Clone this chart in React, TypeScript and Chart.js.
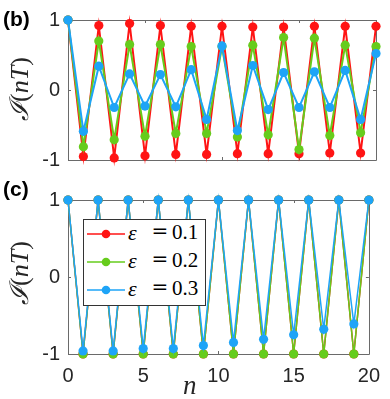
import React, { useEffect, useRef } from "react";
import { Chart, registerables } from "chart.js";

Chart.register(...registerables);

// ---------- data ----------
const nValues = [0, 1, 2, 3, 4, 5, 6, 7, 8, 9, 10, 11, 12, 13, 14, 15, 16, 17, 18, 19, 20];

const seriesLabels = ["ε = 0.1", "ε = 0.2", "ε = 0.3"];
const epsValues = ["0.1", "0.2", "0.3"];
const seriesColors = ["#ff1414", "#66cc1c", "#1ea4f7"];

// panel (b)
const topEps01 = [1, -0.95, 0.92, -0.97, 0.95, -0.94, 0.92, -0.92, 0.91, -0.92, 0.91, -0.91, 0.9, -0.91, 0.9, -0.91, 0.91, -0.9, 0.91, -0.9, 0.91];
const topEps02 = [1, -0.81, 0.7, -0.71, 0.65, -0.66, 0.65, -0.62, 0.62, -0.62, 0.62, -0.67, 0.64, -0.64, 0.75, -0.85, 0.74, -0.65, 0.64, -0.61, 0.62];
const topEps03 = [1, -0.59, 0.34, -0.25, 0.23, -0.23, 0.22, -0.24, 0.29, -0.42, 0.63, -0.58, 0.35, -0.28, 0.25, -0.25, 0.26, -0.25, 0.28, -0.42, 0.52];

// panel (c)
const botEps01 = [1, -1, 1, -1, 1, -1, 1, -1, 1, -1, 1, -1, 1, -1, 1, -1, 1, -1, 1, -1, 1];
const botEps02 = [1, -1, 1, -1, 1, -1, 1, -1, 1, -1, 1, -1, 1, -1, 1, -1, 1, -1, 1, -1, 1];
const botEps03 = [1, -0.96, 1, -0.96, 1, -0.93, 1, -0.93, 1, -0.89, 1, -0.85, 1, -0.81, 1, -0.75, 1, -0.68, 1, -0.61, 1];

const xTicks = [0, 5, 10, 15, 20];
const yTicks = [-1, 0, 1];

// ---------- helpers ----------
const FRAME = "#6a6a6a";
const TEXT = "#262626";

const framePlugin = {
  id: "frameBox",
  beforeDatasetsDraw(chart: any) {
    const { ctx, chartArea } = chart;
    const { left, right, top, bottom } = chartArea;
    const xs = chart.scales.x;
    const ys = chart.scales.y;
    ctx.save();
    ctx.strokeStyle = FRAME;
    ctx.lineWidth = 1;
    ctx.beginPath();
    ctx.rect(Math.round(left) + 0.5, Math.round(top) + 0.5, Math.round(right - left), Math.round(bottom - top));
    const tl = 3;
    xTicks.forEach((v) => {
      const px = Math.round(xs.getPixelForValue(v)) + 0.5;
      ctx.moveTo(px, bottom);
      ctx.lineTo(px, bottom - tl);
      ctx.moveTo(px, top);
      ctx.lineTo(px, top + tl);
    });
    yTicks.forEach((v) => {
      const py = Math.round(ys.getPixelForValue(v)) + 0.5;
      ctx.moveTo(left, py);
      ctx.lineTo(left + tl, py);
      ctx.moveTo(right, py);
      ctx.lineTo(right - tl, py);
    });
    ctx.stroke();
    ctx.restore();
  },
};

function makeDatasets(arrs: number[][], lineWidth: number) {
  return arrs.map((arr, i) => ({
    label: seriesLabels[i],
    data: nValues.map((n, k) => ({ x: n, y: arr[k] })),
    borderColor: seriesColors[i],
    backgroundColor: seriesColors[i],
    pointBackgroundColor: seriesColors[i],
    pointBorderWidth: 0,
    pointRadius: 4.6,
    borderWidth: lineWidth,
    tension: 0,
    clip: false as any,
    order: 3 - i,
  }));
}

function makeConfig(arrs: number[][], lineWidth: number, padTop: number, xHeight: number, showXLabels: boolean): any {
  return {
    type: "line",
    data: { datasets: makeDatasets(arrs, lineWidth) },
    plugins: [framePlugin],
    options: {
      animation: false,
      responsive: false,
      devicePixelRatio: 1,
      layout: { padding: { left: 0, right: 14, top: padTop, bottom: 0 } },
      plugins: { legend: { display: false }, tooltip: { enabled: false }, title: { display: false } },
      scales: {
        x: {
          type: "linear",
          min: 0,
          max: 20,
          afterBuildTicks: (s: any) => {
            s.ticks = xTicks.map((v) => ({ value: v }));
          },
          afterFit: (s: any) => {
            s.height = xHeight;
          },
          grid: { display: false, drawTicks: false },
          border: { display: false },
          ticks: {
            display: showXLabels,
            padding: 10,
            color: TEXT,
            font: { family: "'Liberation Sans', Arial, sans-serif", size: 20 },
            maxRotation: 0,
          },
        },
        y: {
          type: "linear",
          min: -1,
          max: 1,
          afterBuildTicks: (s: any) => {
            s.ticks = yTicks.map((v) => ({ value: v }));
          },
          afterFit: (s: any) => {
            s.width = 68;
          },
          grid: { display: false, drawTicks: false },
          border: { display: false },
          ticks: {
            padding: 8,
            color: TEXT,
            font: { family: "'Liberation Sans', Arial, sans-serif", size: 20 },
          },
        },
      },
    },
  };
}

function ChartCanvas(props: { config: any; top: number; height: number }) {
  const ref = useRef<HTMLCanvasElement | null>(null);
  useEffect(() => {
    if (!ref.current) return;
    const chart = new Chart(ref.current, props.config);
    return () => chart.destroy();
  }, []);
  return (
    <canvas
      ref={ref}
      width={390}
      height={props.height}
      style={{ position: "absolute", left: 0, top: props.top, width: 390, height: props.height }}
    />
  );
}

function YLabel(props: { cy: number }) {
  return (
    <div
      style={{
        position: "absolute",
        left: 20,
        top: props.cy,
        transform: "translate(-50%, -50%) rotate(-90deg)",
        whiteSpace: "nowrap",
        fontFamily: "'Liberation Serif', 'DejaVu Serif', serif",
        fontSize: 26,
        lineHeight: 1,
        color: TEXT,
      }}
    >
      <span style={{ fontStyle: "italic" }}>ℐ</span>
      <span>(</span>
      <span style={{ fontStyle: "italic" }}>nT</span>
      <span>)</span>
    </div>
  );
}

function PanelTag(props: { text: string; top: number }) {
  return (
    <div
      style={{
        position: "absolute",
        left: 3,
        top: props.top,
        fontFamily: "'Liberation Sans', Arial, sans-serif",
        fontWeight: "bold",
        fontSize: 21,
        lineHeight: 1,
        color: "#000",
        whiteSpace: "nowrap",
      }}
    >
      {props.text}
    </div>
  );
}

function Legend() {
  const rowCenters = [234, 262, 290];
  return (
    <div>
      <div
        style={{
          position: "absolute",
          left: 83,
          top: 219,
          width: 121,
          height: 85,
          border: "1px solid #333",
          background: "#fff",
        }}
      />
      {seriesLabels.map((lab, i) => {
        const cy = rowCenters[i];
        const base = cy + 6;
        const top = base - 17.6;
        return (
          <div key={lab} aria-label={lab}>
            <svg style={{ position: "absolute", left: 86, top: cy - 6, width: 40, height: 12 }}>
              <line x1={1} y1={6} x2={39} y2={6} stroke={seriesColors[i]} strokeWidth={1.5} />
              <circle cx={20} cy={6} r={4.3} fill={seriesColors[i]} />
            </svg>
            <span
              style={{
                position: "absolute",
                left: 128,
                top,
                fontFamily: "'Liberation Serif', serif",
                fontStyle: "italic",
                fontSize: 22,
                lineHeight: 1,
                color: "#000",
              }}
            >
              ε
            </span>
            <span
              style={{
                position: "absolute",
                left: 150,
                width: 20,
                textAlign: "center",
                top: top - 1,
                fontFamily: "'DejaVu Serif', serif",
                fontSize: 20,
                lineHeight: 1,
                color: "#000",
              }}
            >
              =
            </span>
            <span
              style={{
                position: "absolute",
                left: 172,
                top,
                fontFamily: "'Liberation Serif', serif",
                fontSize: 21,
                lineHeight: 1,
                color: "#000",
              }}
            >
              {epsValues[i]}
            </span>
          </div>
        );
      })}
    </div>
  );
}

export default function App() {
  const topConfig = makeConfig([topEps01, topEps02, topEps03], 2, 10, 12, false);
  const botConfig = makeConfig([botEps01, botEps02, botEps03], 1.5, 13, 45, true);
  return (
    <div style={{ position: "absolute", left: 0, top: 0, width: 390, height: 399, background: "#fff", overflow: "hidden" }}>
      <ChartCanvas config={topConfig} top={0} height={180} />
      <ChartCanvas config={botConfig} top={180} height={219} />
      <PanelTag text="(b)" top={8} />
      <PanelTag text="(c)" top={178} />
      <YLabel cy={89} />
      <YLabel cy={273} />
      <div
        style={{
          position: "absolute",
          left: 183,
          top: 372,
          fontFamily: "'Liberation Serif', serif",
          fontStyle: "italic",
          fontSize: 27,
          lineHeight: 1,
          color: TEXT,
        }}
      >
        n
      </div>
      <Legend />
    </div>
  );
}
